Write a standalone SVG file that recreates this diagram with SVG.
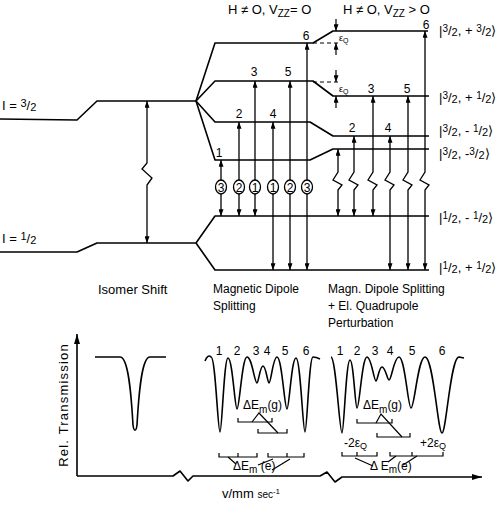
<svg xmlns="http://www.w3.org/2000/svg" width="503" height="509" viewBox="0 0 503 509">
<defs>
<marker id="ah" viewBox="0 0 8 6" markerWidth="7" markerHeight="5" refX="8" refY="3" orient="auto-start-reverse" markerUnits="userSpaceOnUse"><path d="M0,0 L8,3 L0,6 z" fill="#000"/></marker>
<marker id="ahBig" viewBox="0 0 10 6" markerWidth="10" markerHeight="6" refX="10" refY="3" orient="auto-start-reverse" markerUnits="userSpaceOnUse"><path d="M0,0 L10,3 L0,6 z" fill="#000"/></marker>
</defs>
<style>
.ln{fill:none;stroke:#000;stroke-width:1.6;stroke-linejoin:round}
.thin{fill:none;stroke:#000;stroke-width:1.2}
.dash{fill:none;stroke:#000;stroke-width:1.2;stroke-dasharray:4 3}
.tr{fill:none;stroke:#000;stroke-width:1.3;marker-start:url(#ah);marker-end:url(#ah)}
.t{font-family:"Liberation Sans",Arial,sans-serif;font-size:13px;fill:#000}
.s{font-family:"Liberation Sans",Arial,sans-serif;font-size:12px;fill:#000}
.n{font-family:"Liberation Sans",Arial,sans-serif;font-size:12px;fill:#000;text-anchor:middle}
.c{fill:#fff;stroke:#000;stroke-width:1.3}
</style>
<rect width="503" height="509" fill="#fff"/>

<g id="headers">
<text class="t" x="228" y="14">H ≠ O, V<tspan font-size="10" dy="3">ZZ</tspan><tspan dy="-3">= O</tspan></text>
<text class="t" x="343" y="14" font-size="12.5">H ≠ O, V<tspan font-size="10" dy="3">ZZ</tspan><tspan dy="-3"> &gt; O</tspan></text>
</g>

<g id="levels">
<path class="ln" d="M0,119 L77,120 L97,101 L196,101"/>
<path class="ln" d="M0,252 L77,252 L97,243 L196,243"/>
<path class="ln" d="M196,101 L215,43 L313,43 L333,31 L428,31"/>
<path class="ln" d="M196,101 L215,81 L313,81 L333,96 L429,96"/>
<path class="ln" d="M196,101 L215,122 L310,122 L333,136 L429,136"/>
<path class="ln" d="M196,101 L215,160 L310,160 L333,149 L429,149"/>
<path class="ln" d="M196,243 L215,216 L429,216"/>
<path class="ln" d="M196,243 L215,270 L429,270"/>
<path class="dash" d="M313,43 H338"/>
<path class="dash" d="M313,82 H338"/>
</g>

<g id="eps">
<path class="thin" d="M336,19 V31" marker-end="url(#ah)"/>
<path class="thin" d="M336,55 V43" marker-end="url(#ah)"/>
<text x="339" y="41" font-family="Liberation Sans,Arial,sans-serif" font-size="9">ε<tspan font-size="7" dy="2">Q</tspan></text>
<path class="thin" d="M336,70 V82" marker-end="url(#ah)"/>
<path class="thin" d="M336,108 V96" marker-end="url(#ah)"/>
<text x="339" y="92" font-family="Liberation Sans,Arial,sans-serif" font-size="9">ε<tspan font-size="7" dy="2">Q</tspan></text>
</g>

<g id="connectors">
<path class="tr" d="M147,101 V163 L142,169 L152,178 L147,185 V243"/>
<path class="tr" d="M221,160 V216"/>
<path class="tr" d="M239,122 V216"/>
<path class="tr" d="M255,81 V216"/>
<path class="tr" d="M273,122 V270"/>
<path class="tr" d="M290,81 V270"/>
<path class="tr" d="M307,43 V270"/>
<path class="tr" d="M338,149 V172 L333,180 L342,185 L338,190 V216"/>
<path class="tr" d="M354,136 V172 L349,180 L358,185 L354,190 V216"/>
<path class="tr" d="M373,96 V172 L368,180 L377,185 L373,190 V216"/>
<path class="tr" d="M390,136 V172 L385,180 L394,185 L390,190 V270"/>
<path class="tr" d="M408,96 V172 L403,180 L412,185 L408,190 V270"/>
<path class="tr" d="M425,31 V172 L420,180 L429,185 L425,190 V270"/>
</g>

<g id="circles">
<ellipse class="c" cx="221" cy="187" rx="5.5" ry="7"/><text class="n" x="221" y="191.5" font-size="11">3</text>
<ellipse class="c" cx="239" cy="187" rx="5.5" ry="7"/><text class="n" x="239" y="191.5" font-size="11">2</text>
<ellipse class="c" cx="255" cy="187" rx="5.5" ry="7"/><text class="n" x="255" y="191.5" font-size="11">1</text>
<ellipse class="c" cx="273" cy="187" rx="5.5" ry="7"/><text class="n" x="273" y="191.5" font-size="11">1</text>
<ellipse class="c" cx="290" cy="187" rx="5.5" ry="7"/><text class="n" x="290" y="191.5" font-size="11">2</text>
<ellipse class="c" cx="307" cy="187" rx="5.5" ry="7"/><text class="n" x="307" y="191.5" font-size="11">3</text>
</g>

<g id="line-numbers">
<text class="n" x="219" y="157">1</text>
<text class="n" x="239" y="118">2</text>
<text class="n" x="273" y="118">4</text>
<text class="n" x="254" y="76">3</text>
<text class="n" x="288" y="76">5</text>
<text class="n" x="306" y="40">6</text>
<text class="n" x="352" y="132">2</text>
<text class="n" x="388" y="132">4</text>
<text class="n" x="371" y="93">3</text>
<text class="n" x="407" y="93">5</text>
<text class="n" x="426" y="29">6</text>
</g>

<g id="state-labels" font-family="Liberation Sans,Arial,sans-serif" font-size="13">
<text x="2" y="110">I = <tspan font-size="11" dy="-3">3</tspan><tspan dy="3">/</tspan><tspan font-size="11" dy="1">2</tspan></text>
<text x="2" y="243">I = <tspan font-size="11" dy="-3">1</tspan><tspan dy="3">/</tspan><tspan font-size="11" dy="1">2</tspan></text>
<text x="439" y="35">|<tspan font-size="10" dy="-3">3</tspan><tspan dy="3">/</tspan><tspan font-size="11" dy="1">2</tspan><tspan dy="-1">, + </tspan><tspan font-size="10" dy="-3">3</tspan><tspan dy="3">/</tspan><tspan font-size="11" dy="1">2</tspan><tspan dy="-1">⟩</tspan></text>
<text x="439" y="102">|<tspan font-size="10" dy="-3">3</tspan><tspan dy="3">/</tspan><tspan font-size="11" dy="1">2</tspan><tspan dy="-1">, + </tspan><tspan font-size="10" dy="-3">1</tspan><tspan dy="3">/</tspan><tspan font-size="11" dy="1">2</tspan><tspan dy="-1">⟩</tspan></text>
<text x="439" y="135">|<tspan font-size="10" dy="-3">3</tspan><tspan dy="3">/</tspan><tspan font-size="11" dy="1">2</tspan><tspan dy="-1">, - </tspan><tspan font-size="10" dy="-3">1</tspan><tspan dy="3">/</tspan><tspan font-size="11" dy="1">2</tspan><tspan dy="-1">⟩</tspan></text>
<text x="439" y="158">|<tspan font-size="10" dy="-3">3</tspan><tspan dy="3">/</tspan><tspan font-size="11" dy="1">2</tspan><tspan dy="-1">, -</tspan><tspan font-size="10" dy="-3">3</tspan><tspan dy="3">/</tspan><tspan font-size="11" dy="1">2</tspan><tspan dy="-1">⟩</tspan></text>
<text x="439" y="222">|<tspan font-size="10" dy="-3">1</tspan><tspan dy="3">/</tspan><tspan font-size="11" dy="1">2</tspan><tspan dy="-1">, - </tspan><tspan font-size="10" dy="-3">1</tspan><tspan dy="3">/</tspan><tspan font-size="11" dy="1">2</tspan><tspan dy="-1">⟩</tspan></text>
<text x="439" y="272">|<tspan font-size="10" dy="-3">1</tspan><tspan dy="3">/</tspan><tspan font-size="11" dy="1">2</tspan><tspan dy="-1">, + </tspan><tspan font-size="10" dy="-3">1</tspan><tspan dy="3">/</tspan><tspan font-size="11" dy="1">2</tspan><tspan dy="-1">⟩</tspan></text>
</g>

<g id="captions">
<text class="t" x="98" y="294">Isomer Shift</text>
<text class="s" x="213" y="293">Magnetic Dipole</text>
<text class="s" x="213" y="310">Splitting</text>
<text class="s" x="328" y="293">Magn. Dipole Splitting</text>
<text class="s" x="328" y="310">+ El. Quadrupole</text>
<text class="s" x="328" y="327">Perturbation</text>
</g>

<g id="axes">
<path class="ln" d="M77,476 V334" marker-end="url(#ahBig)"/>
<path class="ln" d="M77,476 H173 L180,471 L188,481 L193,476 H320 L327,472 L335,482 L342,477 H482" marker-end="url(#ahBig)"/>
<text class="t" transform="translate(68,405) rotate(-90)" text-anchor="middle" font-size="14" letter-spacing="1.2">Rel. Transmission</text>
<text class="t" x="222" y="498">v/mm <tspan font-size="10">sec</tspan><tspan font-size="8" dy="-4">-1</tspan></text>
</g>

<g id="spectrum-isomer">
<path class="ln" d="M95,357 H120 C128,357 131,390 133,425 C134,432 136,432 137,425 C139,390 142,357 150,357 H166"/>
</g>

<g id="spectrum-magnetic">
<path class="ln" d="M205,361 C207,356 209,355 211,357 C215.5,357 217.8,432 220,432 C222,432 224,358 228,358 C232.5,358 234.8,409 237,409 C239.5,409 242,357 247,357 C252,357 254.5,383 257,383 C258.5,383 260,366 263,366 C266,366 267.5,383 269,383 C271,383 273,357 277,357 C282,357 284.5,409 287,409 C289.2,409 291.5,358 296,358 C300.5,358 302.8,432 305,432 C307,432 309,357 313,357 C316,357 318,358 320,359"/>
<text class="n" x="219" y="355">1</text>
<text class="n" x="237" y="355">2</text>
<text class="n" x="256" y="355">3</text>
<text class="n" x="267" y="355">4</text>
<text class="n" x="285" y="355">5</text>
<text class="n" x="306" y="355">6</text>
<path class="thin" d="M238,418 V422 H272 V418"/>
<path class="thin" d="M258,429 V433 H287 V429"/>
<text class="s" x="243" y="409">ΔE<tspan font-size="10" dy="4">m</tspan><tspan dy="-4">(g)</tspan></text>
<path class="thin" d="M252,422 L259,413 L278,433"/>
<path class="thin" d="M219,453 V457 H257 V453 M238,457 V453"/>
<path class="thin" d="M268,453 V457 H304 V453 M287,457 V453"/>
<text class="s" x="233" y="470">ΔE<tspan font-size="10" dy="3">m</tspan><tspan dy="-3"> (e)</tspan></text>
<path class="thin" d="M228,457 L236,464 M273,459 L258,465 M290,459 L272,470"/>
</g>

<g id="spectrum-quadrupole">
<path class="ln" d="M331,357 C336,358 339.5,433 342,433 C344,433 346,360 350,360 C353.5,360 355.2,408 357,408 C359.5,408 362,357 367,357 C371.5,357 373.8,381 376,381 C377.5,381 379,367 382,367 C385.5,367 387.2,380 389,380 C391.5,380 394,357 399,357 C405,357 408,408 411,408 C414.5,408 418,357 425,357 C433.5,357 437.8,433 442,433 C446.2,433 450.5,357 459,357 L464,358"/>
<text class="n" x="340" y="355">1</text>
<text class="n" x="357" y="355">2</text>
<text class="n" x="375" y="355">3</text>
<text class="n" x="390" y="355">4</text>
<text class="n" x="412" y="355">5</text>
<text class="n" x="442" y="355">6</text>
<path class="thin" d="M357,419 V423 H392 V419"/>
<path class="thin" d="M377,433 V437 H410 V433"/>
<text class="s" x="363" y="409">ΔE<tspan font-size="10" dy="4">m</tspan><tspan dy="-4">(g)</tspan></text>
<path class="thin" d="M376,423 L381,414 L402,437"/>
<text class="s" x="344" y="447">-2ε<tspan font-size="9" dy="2">Q</tspan></text>
<text class="s" x="420" y="447">+2ε<tspan font-size="9" dy="2">Q</tspan></text>
<path class="thin" d="M342,452 V456 H377 V452 M357,456 V452"/>
<path class="thin" d="M390,452 V456 H443 V452 M412,456 V452"/>
<text class="s" x="370" y="470">Δ E<tspan font-size="10" dy="3">m</tspan><tspan dy="-3">(e)</tspan></text>
<path class="thin" d="M355,458 L373,466 M396,456 L388,462 M417,456 L403,465"/>
</g>
</svg>
